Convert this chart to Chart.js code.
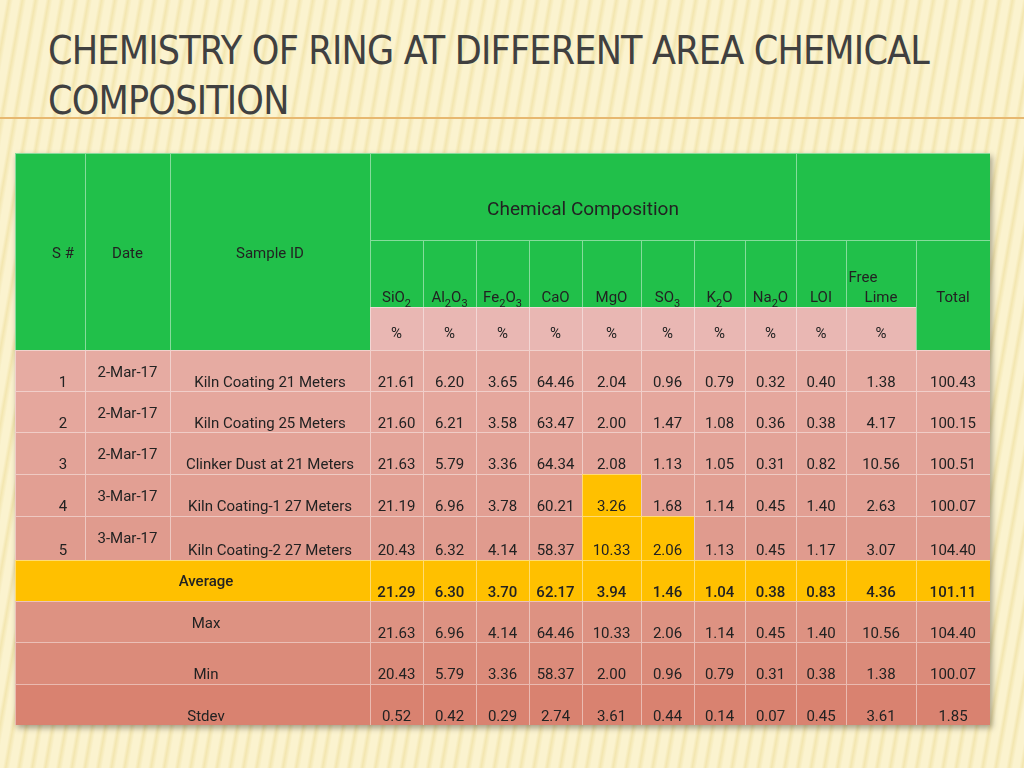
<!DOCTYPE html>
<html><head><meta charset="utf-8">
<script src="https://cdn.jsdelivr.net/npm/chart.js@4/dist/chart.umd.min.js"></script>
<style>
html,body{margin:0;padding:0;width:1024px;height:768px;overflow:hidden;
background:repeating-linear-gradient(100deg,#fbf3cf 0px,#fbf3cf 6px,#f3e6b0 9px,#fbf3cf 13px);}
#t{position:absolute;left:48px;top:26px;font-family:"Liberation Sans Narrow","DejaVu Sans Condensed",sans-serif;font-size:39px;color:#404040;line-height:50px;letter-spacing:-0.8px}
#ln{position:absolute;left:0;top:117px;width:1024px;height:2px;background:#e7b870}
#w{position:absolute;left:15px;top:153px;width:975px;height:572px;box-shadow:2px 3px 6px rgba(0,0,0,0.35)}
</style></head><body>
<div id="t">CHEMISTRY OF RING AT DIFFERENT AREA CHEMICAL<br>COMPOSITION</div>
<div id="ln"></div>
<div id="w"><canvas id="c" width="975" height="572"></canvas></div>
<script>
const serial=["1","2","3","4","5"];
const dates=["2-Mar-17","2-Mar-17","2-Mar-17","3-Mar-17","3-Mar-17"];
const sampleIds=["Kiln Coating 21 Meters","Kiln Coating 25 Meters","Clinker Dust at 21 Meters","Kiln Coating-1 27 Meters","Kiln Coating-2 27 Meters"];
const components=[[["SiO",0],["2",1]],[["Al",0],["2",1],["O",0],["3",1]],[["Fe",0],["2",1],["O",0],["3",1]],[["CaO",0]],[["MgO",0]],[["SO",0],["3",1]],[["K",0],["2",1],["O",0]],[["Na",0],["2",1],["O",0]],[["LOI",0]],[["Lime",0]],[["Total",0]]];
const values=[
["21.61","6.20","3.65","64.46","2.04","0.96","0.79","0.32","0.40","1.38","100.43"],
["21.60","6.21","3.58","63.47","2.00","1.47","1.08","0.36","0.38","4.17","100.15"],
["21.63","5.79","3.36","64.34","2.08","1.13","1.05","0.31","0.82","10.56","100.51"],
["21.19","6.96","3.78","60.21","3.26","1.68","1.14","0.45","1.40","2.63","100.07"],
["20.43","6.32","4.14","58.37","10.33","2.06","1.13","0.45","1.17","3.07","104.40"]];
const summaryLabels=["Average","Max","Min","Stdev"];
const summary=[
["21.29","6.30","3.70","62.17","3.94","1.46","1.04","0.38","0.83","4.36","101.11"],
["21.63","6.96","4.14","64.46","10.33","2.06","1.14","0.45","1.40","10.56","104.40"],
["20.43","5.79","3.36","58.37","2.00","0.96","0.79","0.31","0.38","1.38","100.07"],
["0.52","0.42","0.29","2.74","3.61","0.44","0.14","0.07","0.45","3.61","1.85"]];
const highlights=[[3,4],[4,4],[4,5]];

// layout (canvas units)
const colEdges=[0,70,155,355,408,461,514,567,626,679,730,781,831,901,975];
const rowEdges=[0,87,154,197,238,279,321,363,407,448,489,531,572];
const GREEN="#21c04a",PINK="#e9b7b3",YEL="#ffc000";
const rowColors=["#e6aba2","#e5a79d","#e3a398","#e29f93","#e09b8e","",
 "#dd9282","#db8b7a","#d98270"];
const F='Roboto,sans-serif';

const tablePlugin={id:'table',afterDraw(ch){
 const c=ch.ctx,xs=ch.scales.x,ys=ch.scales.y;
 const X=i=>xs.getPixelForValue(colEdges[i]),Y=i=>ys.getPixelForValue(rowEdges[i]);
 const cell=(c0,c1,r0,r1,col)=>{c.fillStyle=col;c.fillRect(X(c0),Y(r0),X(c1)-X(c0),Y(r1)-Y(r0));
  c.strokeStyle="rgba(255,255,255,0.45)";c.lineWidth=1;c.strokeRect(X(c0)+0.5,Y(r0)+0.5,X(c1)-X(c0),Y(r1)-Y(r0));};
 const txt=(s,x,y,al='center',b=false,sz=15)=>{c.font=(b?'500 ':'')+sz+'px '+F;c.fillStyle="#222";c.textAlign=al;c.textBaseline='alphabetic';c.fillText(s,x,y);};
 const rich=(parts,cx,y)=>{c.textBaseline='alphabetic';c.fillStyle="#222";let w=0;
  parts.forEach(p=>{c.font=(p[1]?'11px ':'15px ')+F;w+=c.measureText(p[0]).width;});
  let x=cx-w/2;c.textAlign='left';parts.forEach(p=>{c.font=(p[1]?'11px ':'15px ')+F;c.fillText(p[0],x,y+(p[1]?5:0));x+=c.measureText(p[0]).width;});};
 // header
 cell(0,1,0,3,GREEN);cell(1,2,0,3,GREEN);cell(2,3,0,3,GREEN);
 cell(3,11,0,1,GREEN);cell(11,14,0,1,GREEN);
 for(let i=3;i<14;i++)cell(i,i+1,1,2,GREEN);
 for(let i=3;i<13;i++)cell(i,i+1,2,3,PINK);
 cell(13,14,1,3,GREEN);
 txt("S #",X(0)+48,Y(0)+105);txt("Date",(X(1)+X(2))/2,Y(0)+105);txt("Sample ID",X(2)+100,Y(0)+105);
 txt("Chemical Composition",(X(3)+X(11))/2,Y(0)+62,'center',false,19);
 components.forEach((p,i)=>{const cx=(X(i+3)+X(i+4))/2;rich(p,cx,Y(1)+62);});
 txt("Free",(X(12)+X(13))/2-18,Y(1)+42);
 for(let i=3;i<13;i++)txt("%",(X(i)+X(i+1))/2,Y(2)+31);
 // data rows
 values.forEach((row,r)=>{const ri=3+r,bg=rowColors[r];
  cell(0,1,ri,ri+1,bg);cell(1,2,ri,ri+1,bg);cell(2,3,ri,ri+1,bg);
  row.forEach((v,k)=>{const hl=highlights.some(h=>h[0]===r&&h[1]===k);cell(k+3,k+4,ri,ri+1,hl?YEL:bg);});
  const base=Y(ri)+(r===4?39:37);
  txt(serial[r],X(0)+48,base);txt(dates[r],(X(1)+X(2))/2,Y(ri)+27);txt(sampleIds[r],X(2)+100,base);
  row.forEach((v,k)=>txt(v,(X(k+3)+X(k+4))/2,base));});
 summary.forEach((row,s)=>{const ri=8+s,bg=s===0?YEL:rowColors[5+s];
  cell(0,3,ri,ri+1,bg);row.forEach((v,k)=>cell(k+3,k+4,ri,ri+1,bg));
  const base=Y(ri)+37;
  txt(summaryLabels[s],X(2)+36,Y(ri)+[26,27,37,37][s],'center',s===0);
  row.forEach((v,k)=>txt(v,(X(k+3)+X(k+4))/2,base,'center',s===0));});
}};
new Chart(document.getElementById('c'),{type:'scatter',data:{datasets:[{data:[]}]},
 options:{responsive:false,animation:false,events:[],layout:{padding:0},
 plugins:{legend:{display:false},tooltip:{enabled:false}},
 scales:{x:{type:'linear',min:0,max:975,display:false},y:{type:'linear',min:0,max:572,reverse:true,display:false}}},
 plugins:[tablePlugin]});
</script></body></html>
